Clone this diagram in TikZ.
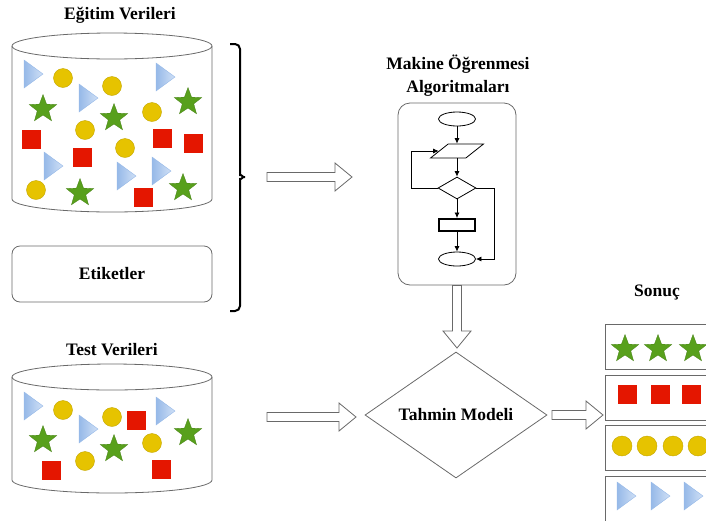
\documentclass[tikz,border=0pt]{standalone}
\usepackage{fontspec}
\setmainfont{Liberation Serif}
\usetikzlibrary{arrows.meta,positioning,calc,shapes.geometric}
\definecolor{mlgreen}{RGB}{88,160,28}
\definecolor{mlyellow}{RGB}{230,195,0}
\definecolor{mlred}{RGB}{228,22,0}
\definecolor{mlblue}{RGB}{150,185,232}
\definecolor{mlblueL}{RGB}{208,224,246}
\definecolor{mlgray}{RGB}{105,105,105}
\tikzset{
  mltitle/.style={font=\fontsize{17.5}{23}\selectfont\bfseries, align=center},
  mlline/.style={draw=mlgray, line width=0.8pt},
  mlbox/.style={mlline, rounded corners=8pt},
  mlres/.style={draw=mlgray, line width=1.2pt, minimum width=120pt, minimum height=45pt, anchor=north west},
  mlstar/.style={star, star points=5, star point ratio=2.4, minimum size=29pt, inner sep=0pt, fill=mlgreen, draw=mlgreen!80!black, line width=0.3pt},
  mldot/.style={circle, minimum size=19pt, inner sep=0pt, fill=mlyellow, draw=mlyellow!85!black, line width=0.4pt},
  mlsq/.style={rectangle, minimum size=19pt, inner sep=0pt, fill=mlred},
  mltri/.style={left color=mlblue, right color=mlblueL, draw=mlblue, line width=0.4pt},
  mlchart/.style={draw, line width=0.8pt, inner sep=0pt},
  mlflow/.style={line width=0.7pt, -{Latex[length=5.5pt,width=5pt]}},
  mlhollow/.style={draw=mlgray, line width=0.8pt, fill=white},
}
\newcommand{\mlhollowarrow}[2]{%
  \coordinate (mlh) at ($(#2)!17pt!(#1)$);
  \draw[mlhollow] ($(#1)!4.5pt!90:(#2)$) -- ($(mlh)!4.5pt!-90:(#1)$) -- ($(mlh)!14pt!-90:(#1)$)
    -- (#2) -- ($(mlh)!14pt!90:(#1)$) -- ($(mlh)!4.5pt!90:(#1)$) -- ($(#1)!4.5pt!-90:(#2)$) -- cycle;}

\begin{document}
\begin{tikzpicture}[x=1pt, y=-1pt]
  \clip (0,0) rectangle (706,520);

  \node[mltitle] (etitle) at (120,15) {Eğitim Verileri};
  \draw[mlline] (12,46) -- (12,199) arc[start angle=180, end angle=0, x radius=100, y radius=13] -- (212,46);
  \draw[mlline] (112,46) ellipse [x radius=100, y radius=13];
  \foreach \x/\y in {24/60, 79/84, 156/63, 44/152, 117/162, 152/157}
    \draw[mltri] (\x,\y) -- ++(19,14) -- ++(-19,14) -- cycle;
  \foreach \x/\y [count=\i] in {63/78, 112/86, 152/112, 85/130, 125/148, 36/190}
    \node[mldot] (edot\i) at (\x,\y) {};
  \foreach \x/\y [count=\i] in {43/109, 114/118, 188/102, 80/193, 183/188}
    \node[mlstar] (estar\i) at (\x,\y) {};
  \foreach \x/\y [count=\i] in {31/139, 82/157, 162/138, 193/143, 143/197}
    \node[mlsq] (esq\i) at (\x,\y) {};

  \node[mlbox, minimum width=200pt, minimum height=56pt] (labels) at (112,274) {};
  \node[mltitle] at (labels) {Etiketler};

  \draw[line width=2pt, rounded corners=5pt] (230,44) -| (240,170) to[out=-90,in=180] (248,177) coordinate (btip)
    to[out=180,in=90] (240,184) |- (230,311);

  \node[mltitle] (ttitle) at (112,350) {Test Verileri};
  \draw[mlline] (12,377) -- (12,480) arc[start angle=180, end angle=0, x radius=100, y radius=13] -- (212,377);
  \draw[mlline] (112,377) ellipse [x radius=100, y radius=13];
  \foreach \x/\y in {24/392, 79/415, 156/397}
    \draw[mltri] (\x,\y) -- ++(19,14) -- ++(-19,14) -- cycle;
  \foreach \x/\y [count=\i] in {63/410, 112/417, 152/443, 85/461}
    \node[mldot] (tdot\i) at (\x,\y) {};
  \foreach \x/\y [count=\i] in {43/440, 114/449, 188/433}
    \node[mlstar] (tstar\i) at (\x,\y) {};
  \foreach \x/\y [count=\i] in {136/420, 51/470, 161/469}
    \node[mlsq] (tsq\i) at (\x,\y) {};

  \node[mltitle] (atitle) at (458,76) {Makine Öğrenmesi\\Algoritmaları};
  \node[mlbox, rounded corners=12pt, minimum width=118pt, minimum height=182pt] (algo) at (457,194) {};
  \node[mlchart, ellipse, minimum width=37pt, minimum height=14pt] (fs) at (457,119) {};
  \node[draw, line width=0.8pt, inner sep=1pt, trapezium, trapezium left angle=45, trapezium right angle=135,
    trapezium stretches=true, minimum width=53pt, minimum height=14pt] (fp) at (457,151) {};
  \node[mlchart, diamond, aspect=1.7, minimum width=38pt, minimum height=22pt] (fd) at (457,188) {};
  \node[mlchart, line width=2pt, minimum width=36pt, minimum height=12pt] (fr) at (457,225) {};
  \node[mlchart, ellipse, minimum width=37pt, minimum height=14pt] (fe) at (457,259) {};
  \draw[mlflow] (fs) -- (fp);
  \draw[mlflow] (fp) -- (fd);
  \draw[mlflow] (fd) -- (fr);
  \draw[mlflow] (fr) -- (fe);
  \draw[mlflow] (fd.west) -- ++(-26,0) |- (fp.west);
  \draw[mlflow] (fd.east) -- ++(18,0) |- (fe.east);

  \node[mlline, diamond, aspect=1.45, minimum width=182pt, minimum height=126pt, inner sep=0pt,
    mltitle] (model) at (456,415) {Tahmin Modeli};

  \node[mltitle] (rtitle) at (657,293) {Sonuç};
  \foreach \y [count=\i] in {324,375,425,476}
    \node[mlres] (res\i) at (605,\y) {};
  \foreach \x [count=\i] in {625,658,693}
    \node[mlstar] (rstar\i) at (\x,349) {};
  \foreach \x [count=\i] in {627,660,691}
    \node[mlsq] (rsq\i) at (\x,394) {};
  \foreach \x [count=\i] in {622,647,673,698}
    \node[mldot, minimum size=20pt] (rdot\i) at (\x,446) {};
  \foreach \x in {617,651,684}
    \draw[mltri] (\x,482) -- ++(19,14) -- ++(-19,14) -- cycle;

  \coordinate (a1s) at (267,177);
  \coordinate (a1e) at (352,177);
  \coordinate (a2e) at (457,348);
  \coordinate (a3s) at (267,417);
  \coordinate (a3e) at (356,417);
  \coordinate (a4s) at (552,415);
  \coordinate (a4e) at (603,415);
  \mlhollowarrow{a1s}{a1e}
  \mlhollowarrow{algo.south}{a2e}
  \mlhollowarrow{a3s}{a3e}
  \mlhollowarrow{a4s}{a4e}
\end{tikzpicture}
\end{document}
